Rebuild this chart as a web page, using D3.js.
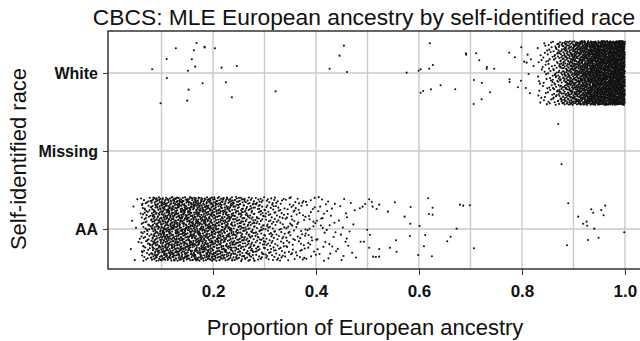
<!DOCTYPE html>
<html>
<head>
<meta charset="utf-8">
<script src="https://cdn.jsdelivr.net/npm/d3@7"></script>
<style>
  html, body { margin: 0; padding: 0; background: #fff; }
  svg { display: block; font-family: "Liberation Sans", Arial, Helvetica, sans-serif; }
</style>
</head>
<body>
<svg id="chart" width="640" height="341"></svg>
<script>
// ---------------- data ----------------
const categories = ["AA", "Missing", "White"];      // y positions 1,2,3
const xTickValues = [0.2, 0.4, 0.6, 0.8, 1.0];
const xTickLabels = ["0.2", "0.4", "0.6", "0.8", "1.0"];
const xGridValues = [0.1, 0.2, 0.3, 0.4, 0.5, 0.6, 0.7, 0.8, 0.9, 1.0];

// dense parts: number of subjects per ancestry bin
const whiteBinStart = 0.83, whiteBinWidth = 0.01;
const whiteBinCounts = [12, 18, 26, 40, 60, 80, 100, 120, 140, 160, 180, 195, 205, 210, 215, 220, 225];
const aaBinStart = 0.04, aaBinWidth = 0.02;
const aaBinCounts = [9, 70, 145, 175, 180, 180, 175, 170, 155, 140, 120, 100, 80, 62, 50, 40, 32, 25, 19, 15, 11, 8];

// sparse parts: individual subjects (ancestry, jittered race position)
const whiteSparseX = [0.0818,0.1278,0.168,0.1628,0.1836,0.1836,0.2036,0.1098,0.1589,0.1653,0.1511,0.2166,0.2463,0.1103,0.1797,0.2249,0.1525,0.1498,0.0981,0.2366,0.3215,0.4542,0.4458,0.4264,0.46,
  0.6212,0.576,0.5993,0.6031,0.6199,0.627,0.6082,0.6031,0.6232,0.642,0.6704,0.6911,0.6917,0.7111,0.717,0.732,0.7314,0.7461,0.7067,0.7222,0.7383,0.7216,0.7061,0.7753,0.7986,0.7863,0.776,0.776,0.798,0.7922,0.8077,0.8155,0.8044,0.8091,0.811,0.8174,0.8226,0.8129];
const whiteSparseY = [3.047,3.317,3.385,3.291,3.327,3.335,3.317,3.179,3.176,3.081,3.029,3.068,3.09,2.936,2.868,2.881,2.786,2.645,2.612,2.689,2.765,3.35,3.222,3.055,3.013,
  3.381,3.004,3.029,3.047,3.055,3.103,2.769,2.747,2.791,2.842,2.791,3.253,3.235,3.253,3.163,3.077,3.055,3.055,2.91,2.872,2.753,2.663,2.603,3.26,3.329,3.201,2.919,2.885,2.901,2.817,2.808,2.74,3.145,3.132,3.235,3.176,3.09,2.987];
const missingX = [0.8705, 0.877];
const missingY = [2.346, 1.829];
const aaSparseX = [0.4852,0.4905,0.4955,0.5033,0.5086,0.5099,0.5177,0.5227,0.5396,0.5532,0.5721,0.5837,0.583,0.6179,0.6265,0.6193,0.6265,0.6795,0.6859,0.6989,0.6731,0.6012,0.4994,0.5047,0.4866,0.493,0.5033,0.5111,0.5163,0.5227,0.5227,0.5435,0.5552,0.5565,0.5824,0.6121,0.6096,0.5985,0.6251,0.6548,0.6614,0.7067,
  0.8899,0.9093,0.9345,0.9384,0.954,0.9617,0.9586,0.919,0.9256,0.9268,0.9404,0.9489,0.9281,0.8874,0.9987];
const aaSparseY = [1.265,1.286,1.321,1.381,1.346,1.286,1.256,1.312,1.222,1.342,1.158,1.282,1.068,1.394,1.273,1.192,1.183,1.312,1.299,1.304,1.004,1.038,0.991,0.927,0.837,0.837,0.76,0.645,0.641,0.645,0.744,0.76,0.855,0.709,0.91,0.923,0.778,0.667,0.65,0.842,0.901,0.753,
  1.329,1.158,1.253,1.209,1.244,1.299,1.176,1.068,1.094,1.042,1.004,0.888,0.859,0.791,0.958];

// ---------------- layout ----------------
const svg = d3.select("#chart");
const x = d3.scaleLinear().domain([-0.004, 1.039]).range([108, 645]);
const y = d3.scaleLinear().domain([0.487, 3.538]).range([269, 31]);
const jitterAmount = 0.41;

// deterministic low-discrepancy jitter inside each bin (Halton sequence)
function halton(i, b) { let f = 1, r = 0; while (i > 0) { f /= b; r += f * (i % b); i = Math.floor(i / b); } return r; }
const points = [];
let hIndex = 1;
function addBins(start, width, counts, cat) {
  counts.forEach((n, bi) => {
    for (let k = 0; k < n; k++, hIndex++) {
      points.push({ v: start + width * (bi + halton(hIndex, 2)),
                    c: cat + (halton(hIndex, 3) * 2 - 1) * jitterAmount });
    }
  });
}
addBins(whiteBinStart, whiteBinWidth, whiteBinCounts, 3);
addBins(aaBinStart, aaBinWidth, aaBinCounts, 1);
whiteSparseX.forEach((v, i) => points.push({ v, c: whiteSparseY[i] }));
missingX.forEach((v, i) => points.push({ v, c: missingY[i] }));
aaSparseX.forEach((v, i) => points.push({ v, c: aaSparseY[i] }));

// grid
const grid = svg.append("g").attr("stroke", "#cacaca").attr("stroke-width", 1.4);
grid.selectAll("line.v").data(xGridValues).join("line")
  .attr("x1", d => x(d)).attr("x2", d => x(d)).attr("y1", y.range()[1]).attr("y2", y.range()[0]);
grid.selectAll("line.h").data([1, 2, 3]).join("line")
  .attr("x1", x.range()[0]).attr("x2", x.range()[1]).attr("y1", d => y(d)).attr("y2", d => y(d));

// points
svg.append("g").attr("fill", "#111").selectAll("circle").data(points).join("circle")
  .attr("cx", d => x(d.v)).attr("cy", d => y(d.c)).attr("r", 1.05);

// box
svg.append("rect").attr("x", x.range()[0]).attr("y", y.range()[1])
  .attr("width", x.range()[1] - x.range()[0]).attr("height", y.range()[0] - y.range()[1])
  .attr("fill", "none").attr("stroke", "#333").attr("stroke-width", 1.5);

// x axis
const xAxis = d3.axisBottom(x).tickValues(xTickValues).tickFormat((d, i) => xTickLabels[i]).tickSize(6).tickPadding(10);
const gx = svg.append("g").attr("transform", `translate(0,${y.range()[0]})`).call(xAxis);
gx.select(".domain").remove();
gx.selectAll("line").attr("stroke", "#333");
gx.selectAll("text").attr("font-size", 17).attr("font-weight", "bold").attr("fill", "#111")
  .attr("font-family", "Liberation Sans, Arial, sans-serif");

// y axis
const yAxis = d3.axisLeft(y).tickValues([1, 2, 3]).tickFormat(d => categories[d - 1]).tickSize(5).tickPadding(5);
const gy = svg.append("g").attr("transform", `translate(${x.range()[0]},0)`).call(yAxis);
gy.select(".domain").remove();
gy.selectAll("line").attr("stroke", "#333");
gy.selectAll("text").attr("font-size", 16).attr("font-weight", "bold").attr("fill", "#111")
  .attr("font-family", "Liberation Sans, Arial, sans-serif");

// titles
svg.append("text").attr("x", 364).attr("y", 25).attr("text-anchor", "middle")
  .attr("font-size", 22.8).attr("fill", "#111").text("CBCS: MLE European ancestry by self-identified race");
svg.append("text").attr("x", 365).attr("y", 335).attr("text-anchor", "middle")
  .attr("font-size", 22).attr("fill", "#111").text("Proportion of European ancestry");
svg.append("text").attr("transform", "translate(26,159) rotate(-90)").attr("text-anchor", "middle")
  .attr("font-size", 22).attr("fill", "#111").text("Self-identified race");
</script>
</body>
</html>
